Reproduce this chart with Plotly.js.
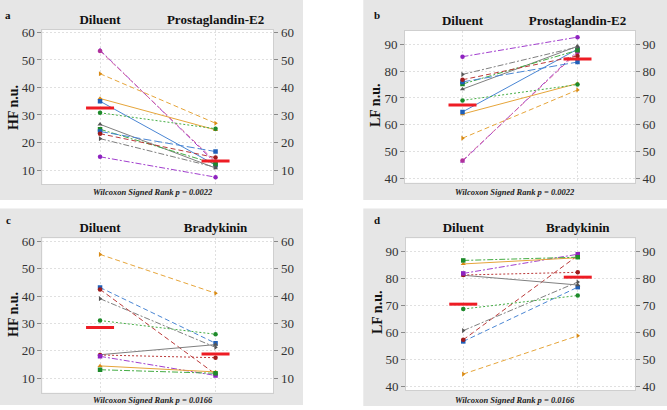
<!DOCTYPE html>
<html><head><meta charset="utf-8">
<script src="https://cdn.plot.ly/plotly-3.0.1.min.js"></script>
<style>html,body{margin:0;padding:0;background:#fff}#chart{width:667px;height:410px}</style>
</head><body><div id="chart"></div>
<script>
// ---------- data ----------
const groupsAB = ['Diluent', 'Prostaglandin-E2'];
const groupsCD = ['Diluent', 'Bradykinin'];

// panel a: HF n.u. (Diluent -> Prostaglandin-E2), 12 subjects
const hfDiluentA = [53.6, 53.3, 45.0, 36.0, 35.0, 30.8, 26.6, 24.8, 24.0, 23.2, 21.4, 14.8];
const hfPgeA     = [12.5, 13.0, 27.0, 24.6, 11.8, 25.0, 10.7, 12.2, 16.7, 14.5, 11.0, 7.4];
const meanA = [32.5, 13.3];

// panel b: LF n.u.
const lfDiluentB = [46.4, 46.7, 55.0, 64.0, 64.8, 69.1, 73.3, 75.2, 76.0, 76.8, 78.8, 85.4];
const lfPgeB     = [87.5, 87.0, 73.0, 75.4, 88.2, 75.0, 89.3, 87.8, 83.4, 85.7, 89.0, 92.7];
const meanB = [67.4, 84.5];

// panel c: HF n.u. (Diluent -> Bradykinin), 10 subjects
const hfDiluentC = [55.3, 43.2, 42.5, 39.1, 31.1, 18.6, 18.5, 18.0, 14.5, 13.1];
const hfBkC      = [41.1, 22.8, 11.5, 21.3, 26.1, 22.3, 17.5, 11.0, 12.3, 11.8];
const meanC = [28.6, 18.9];

// panel d: LF n.u.
const lfDiluentD = [44.7, 56.8, 57.4, 60.8, 68.8, 81.3, 81.4, 82.0, 85.5, 86.8];
const lfBkD      = [58.9, 76.9, 88.6, 78.8, 73.8, 77.7, 82.4, 89.1, 87.8, 88.0];
const meanD = [70.6, 80.6];

const pvalAB = 'Wilcoxon Signed Rank p = 0.0022';
const pvalCD = 'Wilcoxon Signed Rank p = 0.0166';
const ticksHF = [10, 20, 30, 40, 50, 60];
const ticksLF = [40, 50, 60, 70, 80, 90];

// ---------- styles ----------
const C = {
  blue: '#4a86d4', orange: '#e6a53a', green: '#45ad45', red: '#bb3a3a',
  purple: '#a23fce', gray: '#808080', pink: '#d468a4'
};
const MC = {
  blue: '#1f5fb8', orange: '#d98a14', green: '#1d8a2a', red: '#a01c1c',
  purple: '#8e22c0', gray: '#555555', pink: '#b0309a'
};
const DASH = {
  solid: 'solid', dot: '2px,2px', dash: '5px,3px', longdash: '8px,3px', dashdot: '6px,2px,2px,2px'
};
const styleAB = [
  ['purple', 'dashdot', 'triangle-up'],
  ['pink', 'dash', 'circle'],
  ['orange', 'dash', 'triangle-right'],
  ['orange', 'solid', 'triangle-up'],
  ['blue', 'solid', 'square'],
  ['green', 'dot', 'circle'],
  ['gray', 'solid', 'triangle-up'],
  ['green', 'dashdot', 'square'],
  ['blue', 'longdash', 'square'],
  ['red', 'dash', 'circle'],
  ['gray', 'dashdot', 'triangle-right'],
  ['purple', 'dashdot', 'circle']
];
const styleCD = [
  ['orange', 'dash', 'triangle-right'],
  ['blue', 'dash', 'square'],
  ['red', 'dash', 'circle'],
  ['gray', 'dashdot', 'triangle-right'],
  ['green', 'dot', 'circle'],
  ['gray', 'solid', 'triangle-up'],
  ['red', 'dot', 'circle'],
  ['purple', 'dashdot', 'square'],
  ['orange', 'solid', 'triangle-up'],
  ['green', 'dashdot', 'square']
];

const W = 667, H = 410;
const px = v => v / W;
const py = v => 1 - v / H;
const SERIF = 'Liberation Serif';

const traces = [];
function addPanel(dil, trt, mean, styles, xa, ya, yRightId) {
  for (let i = 0; i < dil.length; i++) {
    const s = styles[i];
    traces.push({
      type: 'scatter', mode: 'lines+markers', x: [0, 1], y: [dil[i], trt[i]],
      xaxis: xa, yaxis: ya, showlegend: false, hoverinfo: 'skip',
      line: {color: C[s[0]], width: 1, dash: DASH[s[1]]},
      marker: {color: MC[s[0]], size: 4.5, symbol: s[2]}
    });
  }
  // mean markers drawn on the overlaid right axis (same range as the left one)
  traces.push({
    type: 'scatter', mode: 'markers', x: [0, 1], y: mean,
    xaxis: xa, yaxis: yRightId, showlegend: false, hoverinfo: 'skip',
    marker: {symbol: 'line-ew', size: 20, color: '#ee1c24', line: {width: 3, color: '#ee1c24'}}
  });
}
addPanel(hfDiluentA, hfPgeA, meanA, styleAB, 'x', 'y', 'y5');
addPanel(lfDiluentB, lfPgeB, meanB, styleAB, 'x2', 'y2', 'y6');
addPanel(hfDiluentC, hfBkC, meanC, styleCD, 'x3', 'y3', 'y7');
addPanel(lfDiluentD, lfBkD, meanD, styleCD, 'x4', 'y4', 'y8');

const tickFont = {family: SERIF, size: 13, color: '#333333'};
const gridC = '#e0e0e0';
function xAxis(domain, anchor, labels) {
  return {
    domain: domain, anchor: anchor, range: [-0.5, 1.5], side: 'top',
    tickvals: [0, 1], ticktext: labels, ticks: '',
    tickfont: {family: SERIF, size: 13, weight: 'bold', color: '#111'},
    showgrid: true, griddash: '2px,2px', gridcolor: gridC, gridwidth: 1,
    showline: true, linecolor: '#cfcfcf', linewidth: 1, mirror: true,
    zeroline: false, fixedrange: true
  };
}
function yAxis(domain, anchor, range, tv) {
  return {
    domain: domain, anchor: anchor, range: range, tickvals: tv,
    ticks: 'outside', ticklen: 4, tickcolor: '#8a8a8a', tickfont: tickFont,
    showgrid: true, griddash: '2px,2px', gridcolor: gridC, gridwidth: 1,
    showline: true, linecolor: '#cfcfcf', linewidth: 1, mirror: true,
    zeroline: false, fixedrange: true
  };
}
function yRight(over, anchor, range, tv) {
  return {
    overlaying: over, anchor: anchor, side: 'right', range: range, tickvals: tv,
    ticks: 'outside', ticklen: 4, tickcolor: '#8a8a8a', tickfont: tickFont,
    showgrid: false, showline: false, zeroline: false, fixedrange: true
  };
}

const dxL = [px(42.3), px(273.3)];
const dxR = [px(405), px(635)];
const dxR2 = [px(406), px(635)];
const dyT1 = [py(184.3), py(30)];
const dyT2 = [py(182.7), py(30.7)];
const dyB1 = [py(392.7), py(238.3)];
const dyB2 = [py(390), py(238.3)];
const rA = [4.8, 60.9], rB = [38.4, 95.1], rC = [4.7, 61.2], rD = [38.8, 95.0];

const grayBg = '#e6e6e6';
const shapes = [
  {type: 'rect', xref: 'paper', yref: 'paper', x0: 0, x1: px(303), y0: py(200), y1: 1, fillcolor: grayBg, line: {width: 0}, layer: 'below'},
  {type: 'rect', xref: 'paper', yref: 'paper', x0: px(363.3), x1: 1, y0: py(200), y1: 1, fillcolor: grayBg, line: {width: 0}, layer: 'below'},
  {type: 'rect', xref: 'paper', yref: 'paper', x0: 0, x1: px(303), y0: py(405), y1: py(208.5), fillcolor: grayBg, line: {width: 0}, layer: 'below'},
  {type: 'rect', xref: 'paper', yref: 'paper', x0: px(363.3), x1: 1, y0: py(406), y1: py(208.5), fillcolor: grayBg, line: {width: 0}, layer: 'below'}
];
['x', 'x2', 'x3', 'x4'].forEach((xa, i) => {
  const ya = ['y', 'y2', 'y3', 'y4'][i];
  shapes.push({type: 'rect', xref: xa + ' domain', yref: ya + ' domain', x0: 0, x1: 1, y0: 0, y1: 1,
    fillcolor: '#ffffff', line: {width: 0}, layer: 'below'});
});

function ann(text, x, y, opts) {
  return Object.assign({text: text, x: px(x), y: py(y), xref: 'paper', yref: 'paper',
    xanchor: 'center', yanchor: 'middle', showarrow: false}, opts);
}
const letterFont = {family: SERIF, size: 11, weight: 'bold', color: '#111'};
const titleFont = {family: SERIF, size: 14, weight: 'bold', color: '#111'};
const pFont = {family: SERIF, size: 8.5, weight: 'bold', style: 'italic', color: '#222'};
const annotations = [
  ann('a', 8, 15, {font: letterFont}),
  ann('b', 377, 15, {font: letterFont}),
  ann('c', 8, 220, {font: letterFont}),
  ann('d', 377, 220, {font: letterFont}),
  ann('HF n.u.', 13, 108, {font: titleFont, textangle: -90}),
  ann('LF n.u.', 375, 106, {font: titleFont, textangle: -90}),
  ann('HF n.u.', 13, 315, {font: titleFont, textangle: -90}),
  ann('LF n.u.', 377, 312, {font: titleFont, textangle: -90}),
  ann(pvalAB, 153, 192, {font: pFont}),
  ann(pvalAB, 515, 192, {font: pFont}),
  ann(pvalCD, 153, 399.5, {font: pFont}),
  ann(pvalCD, 515, 399.5, {font: pFont})
];

const layout = {
  width: W, height: H, autosize: false,
  margin: {l: 0, r: 0, t: 0, b: 0, pad: 0},
  paper_bgcolor: '#ffffff', plot_bgcolor: 'rgba(0,0,0,0)',
  showlegend: false,
  xaxis: xAxis(dxL, 'y', groupsAB),
  xaxis2: xAxis(dxR, 'y2', groupsAB),
  xaxis3: xAxis(dxL, 'y3', groupsCD),
  xaxis4: xAxis(dxR2, 'y4', groupsCD),
  yaxis: yAxis(dyT1, 'x', rA, ticksHF),
  yaxis2: yAxis(dyT2, 'x2', rB, ticksLF),
  yaxis3: yAxis(dyB1, 'x3', rC, ticksHF),
  yaxis4: yAxis(dyB2, 'x4', rD, ticksLF),
  yaxis5: yRight('y', 'x', rA, ticksHF),
  yaxis6: yRight('y2', 'x2', rB, ticksLF),
  yaxis7: yRight('y3', 'x3', rC, ticksHF),
  yaxis8: yRight('y4', 'x4', rD, ticksLF),
  shapes: shapes,
  annotations: annotations
};

Plotly.newPlot('chart', traces, layout, {staticPlot: true, displayModeBar: false});
</script>
</body></html>
